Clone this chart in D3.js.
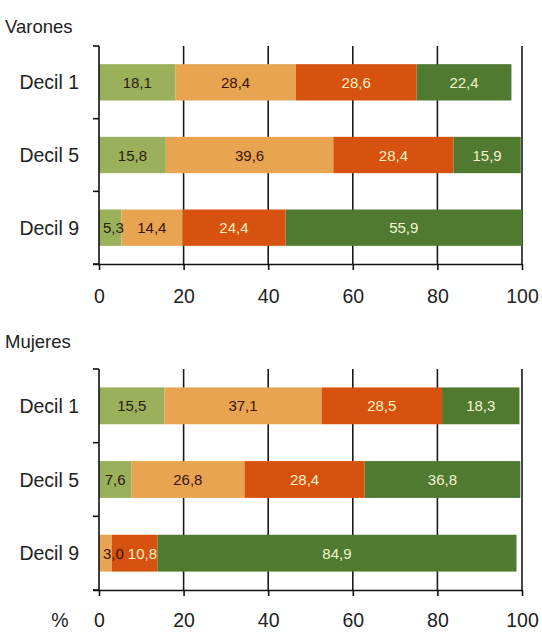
<!DOCTYPE html>
<html>
<head>
<meta charset="utf-8">
<script src="https://cdn.jsdelivr.net/npm/d3@7"></script>
<style>
  html, body { margin: 0; padding: 0; background: #ffffff; }
  svg { display: block; }
</style>
</head>
<body>
<svg id="chart" width="542" height="633"></svg>
<script>
// ---- Data ----
const deciles = ["Decil 1", "Decil 5", "Decil 9"];
const seriesKeys = ["s1", "s2", "s3", "s4"];
const seriesColors = ["#9bb05a", "#e9a452", "#d7520e", "#4f7a2f"];
const labelColors = ["#2a2010", "#3a1408", "#fcefc4", "#f4f3cf"];

const varonesValues = [
  [18.1, 28.4, 28.6, 22.4],
  [15.8, 39.6, 28.4, 15.9],
  [5.3, 14.4, 24.4, 55.9]
];
const mujeresValues = [
  [15.5, 37.1, 28.5, 18.3],
  [7.6, 26.8, 28.4, 36.8],
  [0, 3.0, 10.8, 84.9]
];
const xTicks = [0, 20, 40, 60, 80, 100];
const panelTitles = ["Varones", "Mujeres"];
const unitLabel = "%";

// ---- Drawing ----
const svg = d3.select("#chart");
const x = d3.scaleLinear().domain([0, 100]).range([99, 522]);
const fmt = v => v.toFixed(1).replace(".", ",");
const FONT = "Liberation Sans, Arial, sans-serif";

function panel(title, values, top, bottom, titleY, tickLabelY, showUnit) {
  const g = svg.append("g");
  const y = d3.scaleBand().domain(deciles).range([top, bottom])
    .paddingInner(0.5).paddingOuter(0.25);

  g.append("text").attr("x", 5).attr("y", titleY)
    .attr("font-family", FONT)
    .attr("font-size", 18.5).attr("fill", "#222").text(title);

  // gridlines
  g.selectAll("line.grid").data(xTicks.slice(1)).join("line")
    .attr("x1", d => x(d)).attr("x2", d => x(d))
    .attr("y1", top).attr("y2", bottom)
    .attr("stroke", "#1a1a1a").attr("stroke-width", 1.6);

  // stacked bars
  const rows = values.map((vals, i) => {
    const o = { decil: deciles[i] };
    seriesKeys.forEach((k, j) => o[k] = vals[j]);
    return o;
  });
  const stacked = d3.stack().keys(seriesKeys)(rows);
  stacked.forEach((layer, j) => {
    g.selectAll(null).data(layer.filter(d => d[1] - d[0] > 0)).join("rect")
      .attr("x", d => x(d[0]))
      .attr("width", d => x(d[1]) - x(d[0]))
      .attr("y", d => y(d.data.decil))
      .attr("height", y.bandwidth())
      .attr("fill", seriesColors[j]);
  });

  // value labels (centered, nudged right to avoid overlap)
  rows.forEach((r, i) => {
    let prevRight = x(0);
    stacked.forEach((layer, j) => {
      const d = layer[i];
      const v = d[1] - d[0];
      if (v <= 0) return;
      const t = g.append("text")
        .attr("y", y(r.decil) + y.bandwidth() / 2 + 5.5)
        .attr("text-anchor", "middle")
        .attr("font-family", FONT)
        .attr("font-size", 15)
        .attr("fill", labelColors[j])
        .attr("transform", null)
        .text(fmt(v));
      const w = t.node().getComputedTextLength();
      let cx = (x(d[0]) + x(d[1])) / 2;
      if (cx - w / 2 < prevRight + 4) cx = prevRight + 4 + w / 2;
      prevRight = cx + w / 2;
      t.attr("x", cx);
    });
  });

  // left axis
  g.append("line").attr("x1", x(0)).attr("x2", x(0))
    .attr("y1", top).attr("y2", bottom)
    .attr("stroke", "#111").attr("stroke-width", 1.6);
  const yTickPos = [top];
  for (let i = 1; i < deciles.length; i++) yTickPos.push((y(deciles[i - 1]) + y.bandwidth() + y(deciles[i])) / 2);
  yTickPos.push(bottom);
  g.selectAll("line.yt").data(yTickPos).join("line")
    .attr("x1", x(0) - 6).attr("x2", x(0))
    .attr("y1", d => d).attr("y2", d => d)
    .attr("stroke", "#111").attr("stroke-width", 1.6);

  g.selectAll("text.cat").data(deciles).join("text")
    .attr("x", 79).attr("y", d => y(d) + y.bandwidth() / 2 + 7)
    .attr("text-anchor", "end")
    .attr("font-family", FONT)
    .attr("font-size", 19.5).attr("fill", "#222").text(d => d);

  // bottom axis
  const ax = g.append("g").attr("transform", `translate(0,${bottom})`)
    .call(d3.axisBottom(x).tickValues(xTicks).tickSize(6).tickPadding(12).tickSizeOuter(0));
  ax.select(".domain").attr("stroke", "#111").attr("stroke-width", 1.6)
    .attr("d", `M${x(0) - 6},0.5H${x(100)}`);
  ax.selectAll(".tick line").attr("stroke", "#111").attr("stroke-width", 1.6);
  ax.selectAll(".tick text")
    .attr("font-family", FONT)
    .attr("font-size", 19.5).attr("fill", "#222")
    .attr("dy", null).attr("y", tickLabelY - bottom);

  if (showUnit) {
    g.append("text").attr("x", 60).attr("y", tickLabelY)
      .attr("text-anchor", "middle")
      .attr("font-family", FONT)
      .attr("font-size", 19.5).attr("fill", "#222").text(unitLabel);
  }
}

panel(panelTitles[0], varonesValues, 46, 264, 33, 303, false);
panel(panelTitles[1], mujeresValues, 369, 590, 348, 627, true);
</script>
</body>
</html>
